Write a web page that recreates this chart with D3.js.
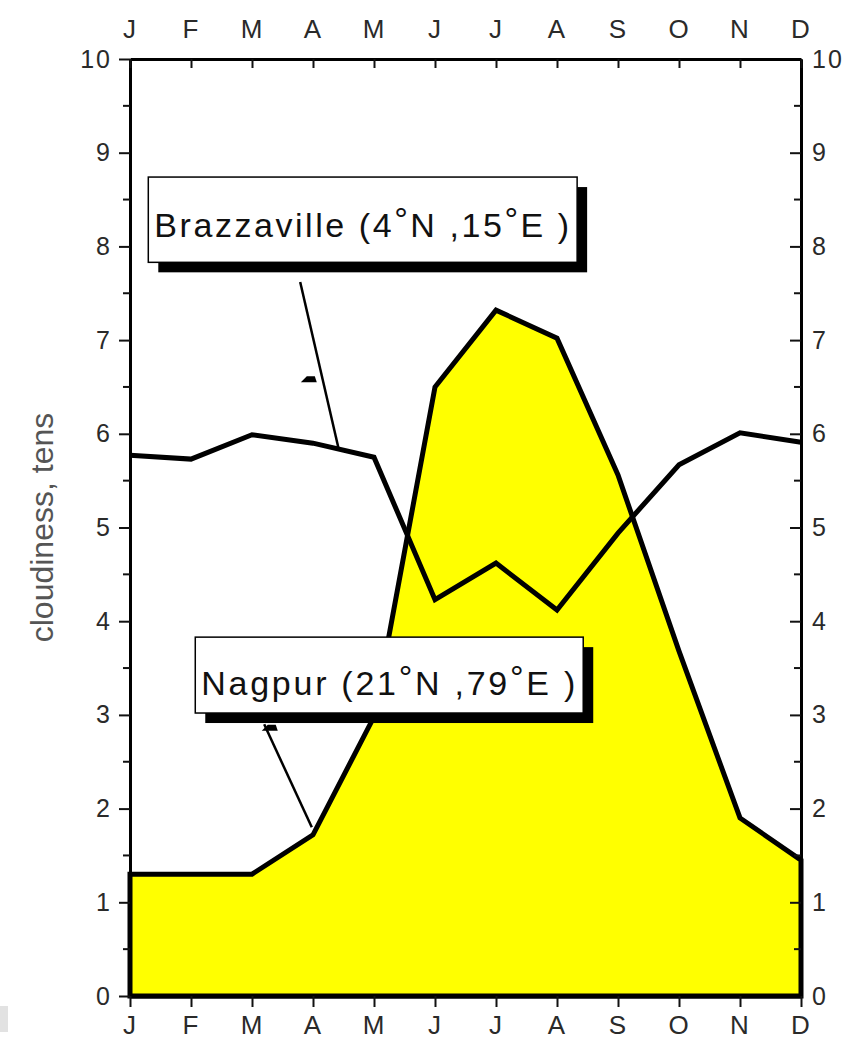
<!DOCTYPE html>
<html>
<head>
<meta charset="utf-8">
<script src="https://cdn.jsdelivr.net/npm/d3@7"></script>
<style>
  body { margin: 0; background: #fff; }
  svg { display: block; }
  text { font-family: "Liberation Sans", Arial, sans-serif; }
</style>
</head>
<body>
<div id="chart"></div>
<script>
// month letters along both x axes
var months = ["J", "F", "M", "A", "M", "J", "J", "A", "S", "O", "N", "D"];
var yTicks = [0, 1, 2, 3, 4, 5, 6, 7, 8, 9, 10];

// cloudiness, tenths of sky
var brazzaville = [5.77, 5.73, 5.99, 5.9, 5.75, 4.23, 4.62, 4.12, 4.94, 5.67, 6.01, 5.91];
var nagpur = [1.3, 1.3, 1.3, 1.72, 2.98, 6.5, 7.32, 7.02, 5.56, 3.68, 1.9, 1.45];

var width = 852, height = 1045;
var plotLeft = 130, plotRight = 801, plotTop = 59, plotBottom = 996;

var svg = d3.select("#chart").append("svg")
  .attr("width", width)
  .attr("height", height);

var x = d3.scaleLinear().domain([0, 11]).range([plotLeft, plotRight]);
var y = d3.scaleLinear().domain([0, 10]).range([plotBottom, plotTop]);

// small grey scan artefact at the lower left
svg.append("rect")
  .attr("x", 0).attr("y", 1006).attr("width", 8).attr("height", 26)
  .attr("fill", "#e2e2e2");

// nagpur filled area
var area = d3.area()
  .x(function(d, i) { return x(i); })
  .y0(y(0))
  .y1(function(d) { return y(d); });

svg.append("path")
  .datum(nagpur)
  .attr("d", area)
  .attr("fill", "#ffff00")
  .attr("stroke", "#000")
  .attr("stroke-width", 5)
  .attr("stroke-linejoin", "miter");

// brazzaville line
var line = d3.line()
  .x(function(d, i) { return x(i); })
  .y(function(d) { return y(d); });

svg.append("path")
  .datum(brazzaville)
  .attr("d", line)
  .attr("fill", "none")
  .attr("stroke", "#000")
  .attr("stroke-width", 5);

// axes
var minor = d3.range(0.5, 10, 1);

var axLeft = d3.axisLeft(y).tickValues(yTicks).tickSize(11).tickPadding(7).tickSizeOuter(0);
var axRight = d3.axisRight(y).tickValues(yTicks).tickSize(-11).tickPadding(11).tickSizeOuter(0);
var axTop = d3.axisTop(x).tickValues(d3.range(12)).tickFormat(function(i) { return months[i]; })
  .tickSize(-9).tickPadding(21).tickSizeOuter(0);
var axBottom = d3.axisBottom(x).tickValues(d3.range(12)).tickFormat(function(i) { return months[i]; })
  .tickSize(11).tickPadding(9).tickSizeOuter(0);

function style(g, w, fs) {
  g.select(".domain").attr("stroke", "#000").attr("stroke-width", w);
  g.selectAll(".tick line").attr("stroke", "#111").attr("stroke-width", 2);
  g.selectAll(".tick text").attr("fill", "#2a2a2a").attr("font-size", fs)
    .attr("font-family", "'Liberation Sans', Arial, sans-serif");
}

svg.append("g").attr("transform", "translate(" + plotLeft + ",0)").call(axLeft).call(style, 3, 25);
svg.append("g").attr("transform", "translate(" + plotRight + ",0)").call(axRight).call(style, 3, 25);
svg.append("g").attr("transform", "translate(0," + plotTop + ")").call(axTop).call(style, 3, 26);
svg.append("g").attr("transform", "translate(0," + plotBottom + ")").call(axBottom).call(style, 4, 26);

// half-unit minor ticks
svg.append("g").selectAll("line").data(minor).enter().append("line")
  .attr("x1", plotLeft - 7).attr("x2", plotLeft)
  .attr("y1", function(d) { return y(d); }).attr("y2", function(d) { return y(d); })
  .attr("stroke", "#111").attr("stroke-width", 2);
svg.append("g").selectAll("line").data(minor).enter().append("line")
  .attr("x1", plotRight - 7).attr("x2", plotRight)
  .attr("y1", function(d) { return y(d); }).attr("y2", function(d) { return y(d); })
  .attr("stroke", "#111").attr("stroke-width", 2);

svg.selectAll(".tick text").attr("letter-spacing", 2);

// y title
svg.append("text")
  .attr("transform", "translate(53," + ((plotTop + plotBottom) / 2) + ") rotate(-90)")
  .attr("text-anchor", "middle")
  .attr("font-size", 32)
  .attr("fill", "#555")
  .text("cloudiness, tens");

// annotation boxes (in data units)
var labels = [
  { parts: ["Brazzaville (4", "°", "N ,15", "°", "E )"], x0: 0.3, x1: 7.33, y0: 8.74, y1: 7.83,
    base: 8.1, size: 34, from: [2.79, 7.62], to: [3.42, 5.84], barb: [2.8, 6.55] },
  { parts: ["Nagpur (21", "°", "N ,79", "°", "E )"], x0: 1.07, x1: 7.43, y0: 3.83, y1: 3.02,
    base: 3.21, size: 34, from: [2.2, 2.9], to: [2.98, 1.8], barb: [2.16, 2.83] }
];

labels.forEach(function(l) {
  var bx = x(l.x0), by = y(l.y0), bw = x(l.x1) - x(l.x0), bh = y(l.y1) - y(l.y0);

  svg.append("line")
    .attr("x1", x(l.from[0])).attr("y1", y(l.from[1]))
    .attr("x2", x(l.to[0])).attr("y2", y(l.to[1]))
    .attr("stroke", "#000").attr("stroke-width", 2.5);

  // little half arrow barb
  var px = x(l.barb[0]), py = y(l.barb[1]);
  svg.append("path")
    .attr("d", "M" + px + "," + py + " l16,0 l-2,-6 l-8,0 z")
    .attr("fill", "#000");

  svg.append("rect")
    .attr("x", bx + 10).attr("y", by + 10).attr("width", bw).attr("height", bh)
    .attr("fill", "#000");
  svg.append("rect")
    .attr("x", bx).attr("y", by).attr("width", bw).attr("height", bh)
    .attr("fill", "#fff").attr("stroke", "#000").attr("stroke-width", 1.5);

  var t = svg.append("text")
    .attr("x", bx + 6).attr("y", y(l.base))
    .attr("font-size", l.size)
    .attr("fill", "#111")
    .attr("textLength", bw - 14)
    .attr("lengthAdjust", "spacing");
  l.parts.forEach(function(p, i) {
    var sp = t.append("tspan").text(p);
    if (p === "°") sp.attr("dy", -6).attr("font-size", l.size);
    else if (i > 0) sp.attr("dy", 6);
  });
});
</script>
</body>
</html>
